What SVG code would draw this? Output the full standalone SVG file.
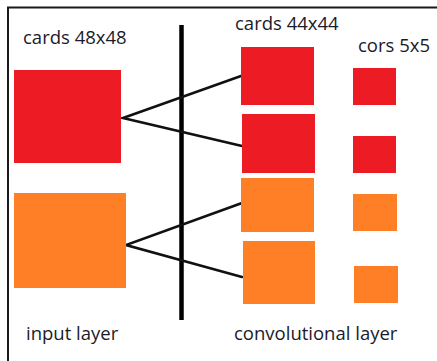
<svg xmlns="http://www.w3.org/2000/svg" width="437" height="361" viewBox="0 0 437 361">
  <style>
    .red { fill: #ED1C24; }
    .orange { fill: #FF7F27; }
    .label { font-family: "Open Sans", "Liberation Sans", sans-serif; font-size: 18.5px; fill: #1b1b2a; }
    .link { stroke: #111; stroke-width: 2.6; fill: none; stroke-linecap: round; }
  </style>
  <rect width="437" height="361" fill="#ffffff"/>
  <!-- frame: top and left edges -->
  <path d="M8 361 V7.5 H437" stroke="#1a1a1a" stroke-width="2" fill="none"/>

  <!-- divider between layers -->
  <line x1="181.5" y1="25" x2="181.5" y2="320" stroke="#000" stroke-width="4.5"/>

  <g id="connectors">
    <polyline class="link" points="241,76 123,118 242,146"/>
    <polyline class="link" points="242,203 126,245 242,277"/>
  </g>

  <g id="input-red"><rect class="red" x="14" y="70" width="107" height="93"/></g>
  <g id="input-orange"><rect class="orange" x="14" y="193" width="112" height="95"/></g>

  <g id="conv-red-1"><rect class="red" x="241" y="47" width="73" height="58"/></g>
  <g id="conv-red-2"><rect class="red" x="242" y="114" width="73" height="59"/></g>
  <g id="conv-orange-1"><rect class="orange" x="241" y="178" width="73" height="54"/></g>
  <g id="conv-orange-2"><rect class="orange" x="243" y="241" width="72" height="63"/></g>

  <g id="kernel-red-1"><rect class="red" x="353" y="68" width="43" height="37"/></g>
  <g id="kernel-red-2"><rect class="red" x="353" y="136" width="43" height="37"/></g>
  <g id="kernel-orange-1"><rect class="orange" x="353" y="194" width="44" height="37"/></g>
  <g id="kernel-orange-2"><rect class="orange" x="354" y="266" width="44" height="37"/></g>

  <g id="labels">
    <text class="label" x="23" y="44">cards 48x48</text>
    <text class="label" x="235" y="30">cards 44x44</text>
    <text class="label" x="358" y="52">cors 5x5</text>
    <text class="label" x="26" y="340">input layer</text>
    <text class="label" x="234" y="340">convolutional layer</text>
  </g>
</svg>
